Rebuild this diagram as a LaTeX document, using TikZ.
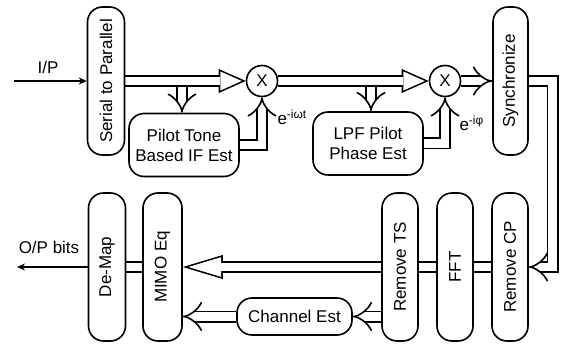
\documentclass[tikz,border=0pt]{standalone}
\usepackage{fontspec}
\usepackage{graphicx}
\setmainfont{Liberation Sans}
\usetikzlibrary{arrows.meta,positioning,shapes,backgrounds}
\newcommand{\vtext}[1]{\rotatebox{90}{#1}}
\tikzset{
block/.style={
  rectangle,
  draw,
  line width=1.6pt,
  rounded corners=15pt,
  minimum width=37pt,
  minimum height=148pt},
est/.style={
  rectangle,
  draw,
  line width=1.6pt,
  rounded corners=15pt,
  minimum width=110pt,
  minimum height=63pt,
  align=center},
mult/.style={circle, draw, line width=1.6pt, minimum size=31pt, inner sep=0pt},
line/.style={draw, line width=1.3pt, -{Stealth[length=8pt,width=7pt]}},
pipe/.style={draw, line width=1.6pt, double, double distance=8.8pt, line join=miter},
pipetip/.style={pipe, -{Implies[scale=2.2]}},
fatout/.style={draw, line width=12pt, -{Triangle[line width=0pt, length=27pt, width=24pt]}},
fatin/.style={draw=white, line width=8.8pt, shorten >=3.94pt,
  -{Triangle[line width=0pt, length=21.46pt, width=19.1pt]}},
longout/.style={draw, line width=12pt, -{Triangle[line width=0pt, length=40pt, width=24pt]}},
longin/.style={draw=white, line width=8.8pt, shorten >=5.57pt,
  -{Triangle[line width=0pt, length=32.83pt, width=19.7pt]}}
}

\begin{document}
\begin{tikzpicture}[x=1pt, y=1pt, font=\fontsize{17}{20}\selectfont]
    \useasboundingbox (0,0) rectangle (565,343);
    % upper chain
    \node [block] (s2p) at (106,262) {\vtext{Serial to Parallel}};
    \node [mult] (x1) at (262,262) {X};
    \node [mult] (x2) at (445,262) {X};
    \node [block, minimum width=35pt] (sync) at (510.5,262) {\vtext{Synchronize}};
    \node [est] (pilot) at (184,198) {Pilot Tone\\Based IF Est};
    \node [est] (lpf) at (368,199.5) {LPF Pilot\\Phase Est};
    % lower chain
    \node [block, minimum width=36pt] (rmcp) at (510,76) {\vtext{Remove CP}};
    \node [block, minimum width=36pt] (fft) at (455,76) {\vtext{FFT}};
    \node [block, minimum width=36pt] (rmts) at (400,76) {\vtext{Remove TS}};
    \node [block, minimum width=39pt] (mimo) at (162.5,76) {\vtext{MIMO Eq}};
    \node [block] (demap) at (107,76) {\vtext{De-Map}};
    \node [est, minimum width=115pt, minimum height=37pt] (chest) at (294.5,26.5) {Channel Est};
    % ends and taps
    \coordinate (ip) at (14,262);
    \coordinate (op) at (17,76);
    \coordinate (tap1) at (182,256);
    \coordinate (tap2) at (371,256);
    \node (iplbl) at (48,276) {I/P};
    \node (oplbl) at (49,96) {O/P bits};
    \node [anchor=west] (wlbl) at (274,226) {e\textsuperscript{-iωt}};
    \node [anchor=west] (plbl) at (456,220) {e\textsuperscript{-iφ}};
    \begin{scope}[on background layer]
    \path [line] (ip) -- (s2p);
    \path [fatout] (s2p) -- (x1);
    \path [fatin] (s2p) -- (x1);
    \path [fatout] (x1) -- (x2);
    \path [fatin] (x1) -- (x2);
    \path [pipetip] (x2) -- (sync);
    \path [pipetip] (tap1) -- (tap1 |- pilot.north);
    \path [pipetip] (tap2) -- (tap2 |- lpf.north);
    \path [pipetip] (pilot.east) -| (x1.south);
    \path [pipetip] (lpf.east) -| (x2.south);
    \path [pipetip] (sync.east) -- ++(24,0) |- (rmcp.east);
    \path [pipe] (rmcp) -- (fft);
    \path [pipe] (fft) -- (rmts);
    \path [longout] (rmts) -- (mimo);
    \path [longin] (rmts) -- (mimo);
    \path [pipe] (mimo) -- (demap);
    \path [line] (demap) -- (op);
    \path [pipetip] (rmts.west |- chest.east) -- (chest.east);
    \path [pipetip] (chest.west) -- (mimo.east |- chest.west);
    \end{scope}
\end{tikzpicture}
\end{document}
